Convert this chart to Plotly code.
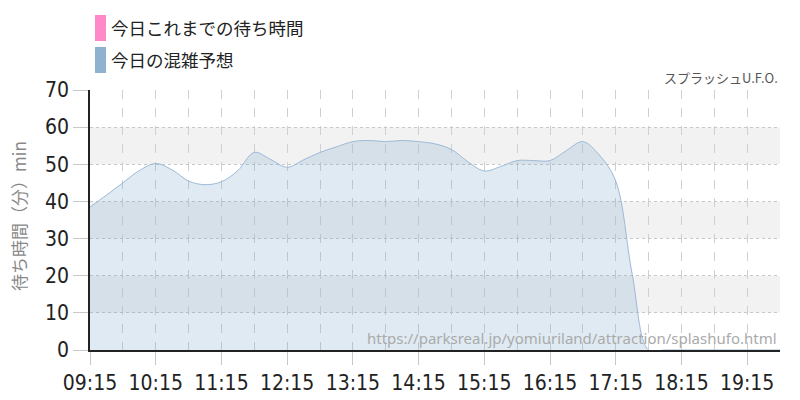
import plotly.graph_objects as go
import pandas as pd

# ---- data ----
times = pd.date_range("2024-01-01 09:15", "2024-01-01 19:45", freq="15min")
forecast = [38.5, 41.7, 45.0, 48.3, 50.2, 48.5, 45.5, 44.5, 45.3, 48.3,
            53.2, 51.3, 49.2, 51.2, 53.2, 54.7, 56.1, 56.4, 56.1, 56.4,
            56.1, 55.5, 54.0, 50.7, 48.2, 49.4, 51.0, 51.0, 51.0, 53.7,
            56.1, 52.5, 45.5, 20.5, 0.0, 0.0, 0.0, 0.0, 0.0, 0.0,
            0.0, 0.0, 0.0]
actual_times = []
actual_values = []
y_ticks = [0, 10, 20, 30, 40, 50, 60, 70]
band_ranges = [(10, 20), (30, 40), (50, 60)]
legend_labels = ["今日これまでの待ち時間", "今日の混雑予想"]
legend_colors = ["#ff88c8", "#8fb2d0"]
title_text = "スプラッシュU.F.O."
url_text = "https://parksreal.jp/yomiuriland/attraction/splashufo.html"
y_title = "待ち時間（分）min"

JP = "Noto Sans CJK JP"
NUM = "DejaVu Sans Condensed, DejaVu Sans"

fig = go.Figure()
fig.add_trace(go.Scatter(
    x=list(times), y=forecast, mode="lines",
    line=dict(color="#9dbad6", width=1, shape="spline", smoothing=1.0),
    fill="tozeroy", fillcolor="rgba(120,164,203,0.23)",
    showlegend=False, hoverinfo="skip"))
fig.add_trace(go.Scatter(
    x=actual_times, y=actual_values, mode="lines",
    line=dict(color=legend_colors[0], width=1), showlegend=False))

shapes = []
for lo, hi in band_ranges:
    shapes.append(dict(type="rect", xref="paper", yref="y", x0=0, x1=1,
                       y0=lo, y1=hi, fillcolor="#f2f2f2", line_width=0,
                       layer="below"))
W, H = 800, 400
L, R, T, B = 90, 20, 90, 50
pw, ph = W - L - R, H - T - B
def px(xp):
    return (xp - L) / pw
def py(yp):
    return (H - B - yp) / ph
sw = [(15, 41), (47, 73)]
annotations = []
for (y0, y1), lab, col in zip(sw, legend_labels, legend_colors):
    shapes.append(dict(type="rect", xref="paper", yref="paper",
                       x0=px(95), x1=px(106), y0=py(y1), y1=py(y0),
                       fillcolor=col, line_width=0))
    annotations.append(dict(xref="paper", yref="paper", x=px(109),
                            y=py((y0 + y1) / 2), text=lab, showarrow=False,
                            xanchor="left", yanchor="middle",
                            font=dict(family=JP, size=17.5, color="#222")))

annotations.append(dict(xref="paper", yref="paper", x=1, y=py(78),
                        text=title_text, showarrow=False, xanchor="right",
                        yanchor="middle",
                        font=dict(family=JP, size=13, color="#555")))
annotations.append(dict(xref="paper", yref="paper", x=px(779), y=py(338),
                        text=url_text, showarrow=False, xanchor="right",
                        yanchor="middle",
                        font=dict(family="Noto Sans", size=15, color="#aaa")))
annotations.append(dict(xref="paper", yref="paper", x=px(18), y=py(216),
                        text=y_title, showarrow=False, textangle=-90,
                        xanchor="center", yanchor="middle",
                        font=dict(family=JP, size=17, color="#888")))

fig.update_layout(
    width=W, height=H, margin=dict(l=L, r=R, t=T, b=B),
    paper_bgcolor="white", plot_bgcolor="white",
    shapes=shapes, annotations=annotations, showlegend=False,
    xaxis=dict(
        type="date",
        range=["2024-01-01 09:15", "2024-01-01 19:45"],
        tick0="2024-01-01 09:15", dtick=3600000, tickformat="%H:%M",
        ticks="outside", ticklen=13, tickcolor="#c8c8c8",
        showgrid=True, gridcolor="#d0d0d0", griddash="dash", gridwidth=1,
        minor=dict(dtick=1800000, tick0="2024-01-01 09:15", showgrid=True,
                   gridcolor="#d0d0d0", griddash="dash", ticks=""),
        showline=True, linecolor="#222", linewidth=1.5,
        tickfont=dict(family=NUM, size=21, color="#222"),
        zeroline=False, fixedrange=True, automargin=False),
    yaxis=dict(
        range=[0, 70], tickvals=y_ticks,
        ticks="outside", ticklen=15, tickcolor="#c8c8c8",
        showgrid=True, gridcolor="#c8c8c8", griddash="dot", gridwidth=1,
        showline=True, linecolor="#222", linewidth=1.5,
        tickfont=dict(family=NUM, size=21, color="#222"),
        zeroline=False, fixedrange=True, automargin=False),
)

fig.write_html("out.html", config={"displayModeBar": False})
with open("out.html", encoding="utf-8") as f:
    html = f.read()
html = html.replace("<body>", '<body style="margin:0;padding:0;">', 1)
with open("out.html", "w", encoding="utf-8") as f:
    f.write(html)
